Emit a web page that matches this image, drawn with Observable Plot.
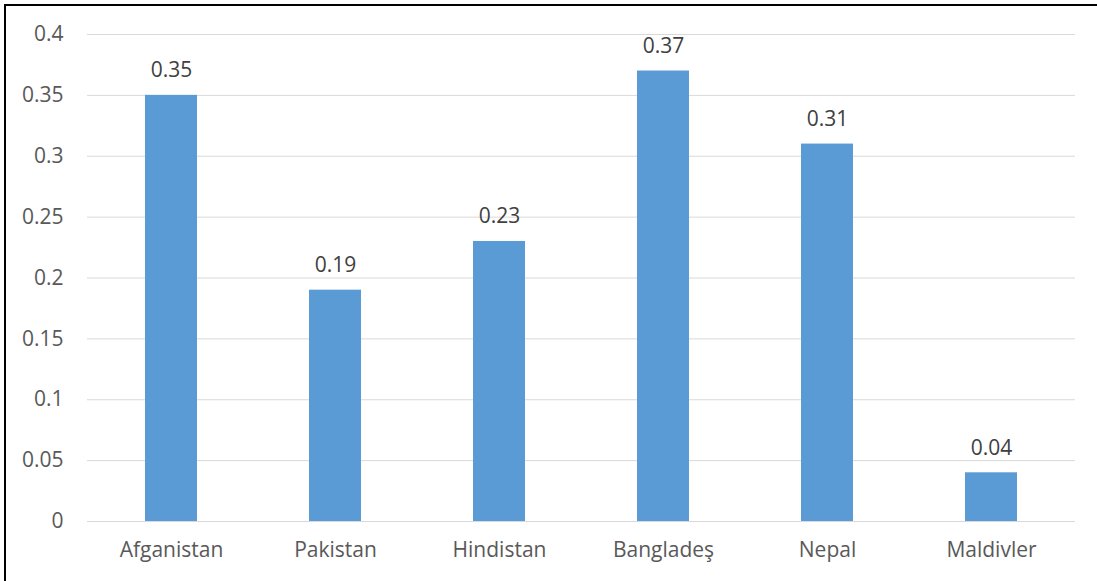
<!DOCTYPE html>
<html>
<head>
<meta charset="utf-8">
<script src="https://cdn.jsdelivr.net/npm/d3@7"></script>
<script src="https://cdn.jsdelivr.net/npm/@observablehq/plot@0.6"></script>
<style>
  html, body { margin: 0; padding: 0; background: #fff; }
  #wrap { position: relative; width: 1097px; height: 581px; overflow: hidden; }
  #frame { position: absolute; left: 4px; top: 4px; width: 1100px; height: 600px;
           border-top: 2px solid #000; border-left: 2px solid #000; box-sizing: border-box; pointer-events: none; }
  #chart { position: absolute; left: 0; top: 0; }
</style>
</head>
<body>
<div id="wrap"><div id="chart"></div><div id="frame"></div></div>
<script>
const countries = ["Afganistan", "Pakistan", "Hindistan", "Bangladeş", "Nepal", "Maldivler"];
const values = [0.35, 0.19, 0.23, 0.37, 0.31, 0.04];
const yTicks = [0, 0.05, 0.1, 0.15, 0.2, 0.25, 0.3, 0.35, 0.4];

const data = countries.map((c, i) => ({country: c, value: values[i]}));

const chart = Plot.plot({
  width: 1097,
  height: 581,
  marginLeft: 87,
  marginRight: 22,
  marginTop: 34,
  marginBottom: 60,
  style: {fontFamily: "'Open Sans', sans-serif", fontSize: "21px", background: "transparent"},
  x: {domain: countries, paddingInner: 0.684, paddingOuter: 0.342, label: null},
  y: {domain: [0, 0.4], label: null},
  marks: [
    Plot.gridY(yTicks, {stroke: "#d9d9d9", strokeOpacity: 1, strokeWidth: 1}),
    Plot.axisY(yTicks, {tickSize: 0, tickPadding: 24, tickFormat: d => String(d), fill: "#595959", fontSize: 21}),
    Plot.axisX({tickSize: 0, tickPadding: 21, fill: "#595959", fontSize: 21}),
    Plot.barY(data, {x: "country", y: "value", fill: "#5b9bd5"}),
    Plot.text(data, {x: "country", y: "value", text: d => String(d.value), lineAnchor: "bottom", dy: -18, fill: "#404040", fontSize: 21})
  ]
});
document.getElementById("chart").appendChild(chart);
</script>
</body>
</html>
